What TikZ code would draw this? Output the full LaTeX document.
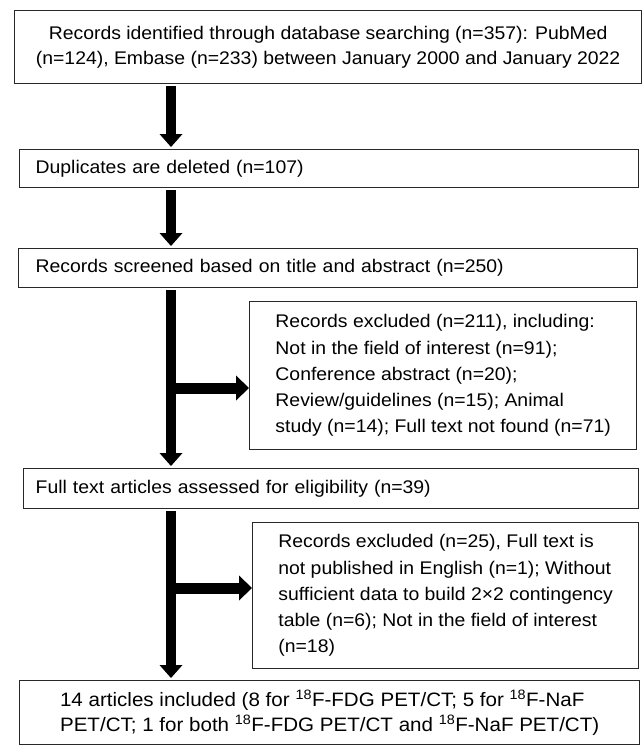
\documentclass[tikz,border=0pt]{standalone}
\usepackage{fontspec}
\setmainfont{Liberation Sans}[FakeStretch=1.06]
\usetikzlibrary{arrows.meta}

\tikzset{every picture/.style={line width=0.75pt}}
\tikzset{
  stage/.style={draw={rgb, 255:red, 40; green, 40; blue, 40 }, line width=1.3pt, anchor=north west, inner ysep=0pt, font=\fontsize{18.3}{25}\selectfont},
  sidebox/.style={stage, align=left, font=\fontsize{18.3}{26.3}\selectfont},
  flow/.style={line width=10pt, -{Triangle[width=23pt,length=13pt,line width=0pt]}, shorten <=2pt, shorten >=2pt},
  branch/.style={line width=11pt, -{Triangle[width=25pt,length=13pt,line width=0pt]}}
}

\begin{document}
\begin{tikzpicture}[x=1pt,y=1pt,yscale=-1,xscale=1]
\useasboundingbox (0,0) rectangle (642,745);
\coordinate (spine) at (171,0);

% Text Node
\node [stage, minimum width=627pt, minimum height=73pt, align=center] (search) at (14,10) {Records identified through database searching (n=357): PubMed\\(n=124), Embase (n=233) between January 2000 and January 2022};
% Text Node
\node [stage, text width=587pt, inner xsep=16pt, minimum height=38pt, align=left] (dupl) at (19,149) {Duplicates are deleted (n=107)};
% Text Node
\node [stage, text width=585pt, inner xsep=17pt, minimum height=39pt, align=left] (screen) at (18,248) {Records screened based on title and abstract (n=250)};
% Text Node
\node [sidebox, minimum width=387pt, minimum height=148pt] (exclA) at (249,301) {Records excluded (n=211), including:\\Not in the field of interest (n=91);\\Conference abstract (n=20);\\Review/guidelines (n=15); Animal\\study (n=14); Full text not found (n=71)};
% Text Node
\node [stage, text width=591pt, inner xsep=12pt, minimum height=40pt, align=left] (fulltext) at (23,468) {Full text articles assessed for eligibility (n=39)};
% Text Node
\node [sidebox, minimum width=386pt, minimum height=146pt] (exclB) at (252,522) {Records excluded (n=25), Full text is\\not published in English (n=1); Without\\sufficient data to build 2×2 contingency\\table (n=6); Not in the field of interest\\(n=18)};
% Text Node
\node [stage, minimum width=620pt, minimum height=64pt, align=left, font=\fontsize{19.4}{25}\selectfont] (incl) at (19,680) {14 articles included (8 for \textsuperscript{18}F-FDG PET/CT; 5 for \textsuperscript{18}F-NaF\\PET/CT; 1 for both \textsuperscript{18}F-FDG PET/CT and \textsuperscript{18}F-NaF PET/CT)};

%Straight Lines
\draw [flow] (search.south -| spine) -- (dupl.north -| spine);
\draw [flow] (dupl.south -| spine) -- (screen.north -| spine);
\draw [flow] (screen.south -| spine) -- (fulltext.north -| spine);
\draw [flow] (fulltext.south -| spine) -- (incl.north -| spine);
%Straight Lines
\coordinate (forkA) at (171,388);
\draw [branch] (forkA) -- (forkA -| exclA.west);
\coordinate (forkB) at (171,588);
\draw [branch] (forkB) -- (forkB -| exclB.west);

\end{tikzpicture}
\end{document}
